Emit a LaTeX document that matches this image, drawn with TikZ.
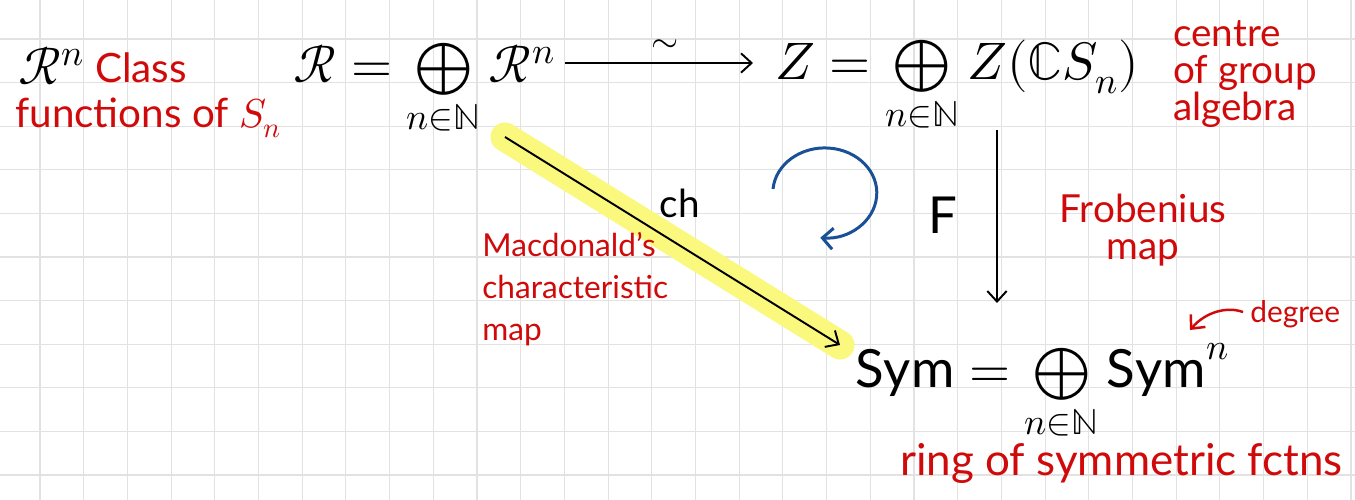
\documentclass[tikz,border=0pt]{standalone}
\usepackage{fontspec}
\usepackage{unicode-math}
\setmainfont{Lato}
\setmathfont{Latin Modern Math}
\usetikzlibrary{arrows.meta}

\definecolor{notered}{RGB}{208,10,10}
\definecolor{loopblue}{RGB}{26,80,150}
\definecolor{marker}{RGB}{250,248,125}
\definecolor{paper}{RGB}{226,226,226}

\begin{document}
\begin{tikzpicture}[
    maths/.style={inner sep=0pt,anchor=base west,font=\fontsize{30}{36}\selectfont},
    note/.style={inner sep=0pt,text=notered,align=left,font=\fontsize{22}{21}\selectfont},
    arrow/.style={-{Straight Barb[length=6pt,width=11pt]},line width=1.1pt},
    turn/.style={-{Straight Barb[length=6pt,width=12pt]},line width=1.7pt,draw=loopblue},
    pointer/.style={-{Straight Barb[length=6pt,width=11pt]},line width=1.4pt,draw=notered},
    highlight/.style={line width=0.58cm,line cap=round,draw=marker},
    gridline/.style={line width=0.6pt,draw=paper}
]
    % Squared paper
    \useasboundingbox (0,0) rectangle (27.1,-10);
    \fill[white] (0,0) rectangle (27.1,-10);
    \foreach \i in {0,...,30}
        \draw[gridline] ({0.8+0.874*\i},0) -- ++(0,-10);
    \foreach \j in {0,...,10}
        \draw[gridline] (0,{-0.78-0.872*\j}) -- ++(27.1,0);

    % Top row: the two graded rings
    \node[maths] (Rn) at (0.36,-1.70) {$\mathcal{R}^n$};
    \node[note,anchor=base west,font=\fontsize{23}{23}\selectfont] (classfn) at (1.9,-1.66) {Class};
    \node[note,anchor=base west,font=\fontsize{23}{23}\selectfont] (fnof) at (0.3,-2.56) {functions of $S_n$};
    \node[maths] (Rsum) at (5.86,-1.66) {$\mathcal{R} = \bigoplus\limits_{n\in\mathbb{N}} \mathcal{R}^n$};
    \node[maths] (Zsum) at (15.5,-1.6) {$Z = \bigoplus\limits_{n\in\mathbb{N}} Z(\mathbb{C}S_n)$};
    \node[note,anchor=north west] (centre) at (23.46,-0.40) {centre\\of group\\algebra};

    % Bottom: symmetric functions
    \node[maths] (Symsum) at (17.1,-7.76) {$\mathrm{Sym} = \bigoplus\limits_{n\in\mathbb{N}} \mathrm{Sym}^n$};
    \node[note,anchor=base west,font=\fontsize{17}{17}\selectfont] (degree) at (25.0,-6.46) {degree};
    \node[note,anchor=base west,font=\fontsize{25}{25}\selectfont] (ring) at (18.0,-9.52) {ring of symmetric fctns};
    \coordinate (degtip) at (23.8,-6.6);
    \coordinate (Fline) at (19.94,0);

    % Arrows
    \draw[highlight] ([shift={(4.24,-1.08)}]Rsum.base west) -- ([shift={(-0.3,0.86)}]Symsum.base west);
    \draw[arrow] ([shift={(4.24,-1.08)}]Rsum.base west) -- ([shift={(-0.3,0.86)}]Symsum.base west);
    \draw[arrow,shorten <=0.2cm,shorten >=0.44cm] ([yshift=0.4cm]Rsum.base east) -- ([yshift=0.34cm]Zsum.base west)
        node[midway,above=2pt,font=\fontsize{20}{20}\selectfont] (iso) {$\sim$};
    \draw[arrow,shorten <=1.0cm,shorten >=1.7cm] (Zsum.base -| Fline) -- (Symsum.base -| Fline);
    \draw[turn] (15.46,-3.78) arc[start angle=175,end angle=-95,x radius=1.04cm,y radius=0.9cm];
    \draw[pointer,shorten <=0.15cm] (degree.west) to[bend right=35] (degtip);

    % Labels
    \node[font=\fontsize{22}{22}\selectfont] (chlabel) at (13.6,-4.06) {ch};
    \node[font=\fontsize{29}{29}\selectfont] (Flabel) at (18.85,-4.3) {F};
    \node[note,anchor=north,align=center] (frob) at (22.86,-3.88) {Frobenius\\map};
    \node[note,anchor=north west,font=\fontsize{18}{24}\selectfont] (macd) at (9.64,-4.64) {Macdonald's\\characteristic\\map};
\end{tikzpicture}
\end{document}
